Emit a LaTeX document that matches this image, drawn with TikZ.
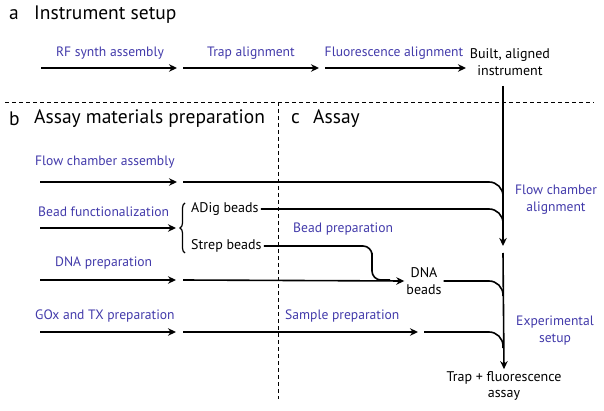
\documentclass[tikz,border=0pt]{standalone}
\usepackage{fontspec}
\setmainfont{PT Sans}
\usetikzlibrary{arrows.meta,positioning,decorations.pathreplacing}
\definecolor{stepblue}{RGB}{66,58,170}

\begin{document}
\begin{tikzpicture}[x=1pt, y=-1pt, >={Stealth[length=8pt,width=7.5pt]},
  flow/.style={line width=1.6pt},
  merge/.style={line width=1.6pt, rounded corners=14pt},
  title/.style={anchor=west, inner sep=0pt, font=\fontsize{19.5}{22}\selectfont},
  steplabel/.style={text=stepblue, inner sep=0pt, font=\fontsize{13.6}{16}\selectfont},
  item/.style={align=center, inner sep=2pt, font=\fontsize{14}{16.5}\selectfont},
  divider/.style={line width=0.8pt, dash pattern=on 4pt off 3pt}]
\useasboundingbox (0,0) rectangle (604,411);

% panel headings
\node (ha) [title] at (9,15) {a};
\node (hat) [title] at (34,15) {Instrument setup};
\node (hb) [title] at (9,119) {b};
\node (hbt) [title] at (34,119) {Assay materials preparation};
\node (hc) [title] at (291,119) {c};
\node (hct) [title] at (313,119) {Assay};

% dividers
\coordinate (dl) at (5,102);
\coordinate (dr) at (594,102);
\coordinate (dt) at (278,102);
\coordinate (db) at (278,399);
\draw[divider] (dl) -- (dr);
\draw[divider] (dt) -- (db);

% a: instrument setup
\coordinate (a0) at (41,68);
\coordinate (a1) at (180,68);
\coordinate (a2) at (322,68);
\coordinate (a3) at (466,68);
\node (rf) [steplabel] at (110,53) {RF synth assembly};
\node (ta) [steplabel] at (251,53) {Trap alignment};
\node (fa) [steplabel] at (394,53) {Fluorescence alignment};
\node (built) [item] at (510,62) {Built, aligned\\instrument};
\draw[flow, ->, shorten >=3pt] (a0) -- (a1);
\draw[flow, ->, shorten <=3pt, shorten >=3pt] (a1) -- (a2);
\draw[flow, ->, shorten <=3pt] (a2) -- (a3);

% vertical trunk
\coordinate (vtop) at (503,86);
\coordinate (vmid) at (503,246);
\coordinate (vlow) at (503,253);
\node (trap) [item] at (504,386) {Trap + fluorescence\\assay};
\draw[flow, ->] (vtop) -- (vmid);
\draw[flow, ->] (vlow) -- (trap.north);
\node (fca) [steplabel, align=center, font=\fontsize{13.6}{17}\selectfont] at (556,200) {Flow chamber\\alignment};
\node (exs) [steplabel, align=center, font=\fontsize{13.6}{17}\selectfont] at (555,331) {Experimental\\setup};

% b: flow chamber
\coordinate (fc0) at (40,182);
\coordinate (fc1) at (177,182);
\coordinate (fc2) at (183,182);
\coordinate (m1) at (503,205);
\node (fcl) [steplabel, anchor=west] at (35,162) {Flow chamber assembly};
\draw[flow, ->] (fc0) -- (fc1);
\draw[merge] (fc2) -| (m1);

% b: beads
\coordinate (bf0) at (40,228);
\coordinate (bf1) at (176,228);
\node (bfl) [steplabel, anchor=west] at (38,212) {Bead functionalization};
\draw[flow, ->] (bf0) -- (bf1);
\draw[line width=1.2pt, decorate, decoration={brace, amplitude=5pt}]
  (185,253) -- (185,203);
\node (adig) [item, anchor=west] at (189,209) {ADig beads};
\node (strep) [item, anchor=west] at (189,246) {Strep beads};
\coordinate (m2) at (503,232);
\draw[merge] (adig.east) -| (m2);

% b: DNA
\coordinate (dn0) at (40,280);
\coordinate (dn1) at (176,280);
\coordinate (dn2) at (183,280);
\coordinate (kink) at (372,262);
\coordinate (join) at (390,280);
\node (dnl) [steplabel, anchor=west] at (55,263) {DNA preparation};
\node (dnab) [item] at (424,281) {DNA\\beads};
\coordinate (m3) at (503,296);
\draw[flow, ->] (dn0) -- (dn1);
\draw[flow, ->] (dn2) -- (dnab.west);
\draw[line width=1.6pt, rounded corners=9pt] (strep.east) -| (kink) |- (join);
\draw[merge] (dnab.east) -| (m3);
\node (bpl) [steplabel, anchor=west] at (293,229) {Bead preparation};

% b: GOx / sample
\coordinate (gx0) at (40,332);
\coordinate (gx1) at (176,332);
\coordinate (sp0) at (183,332);
\coordinate (sp1) at (418,332);
\coordinate (sp2) at (424,332);
\coordinate (m4) at (503,348);
\node (gxl) [steplabel, anchor=west] at (35,316) {GOx and TX preparation};
\node (spl) [steplabel, anchor=west] at (285,316) {Sample preparation};
\draw[flow, ->] (gx0) -- (gx1);
\draw[flow, ->] (sp0) -- (sp1);
\draw[merge] (sp2) -| (m4);
\end{tikzpicture}
\end{document}
